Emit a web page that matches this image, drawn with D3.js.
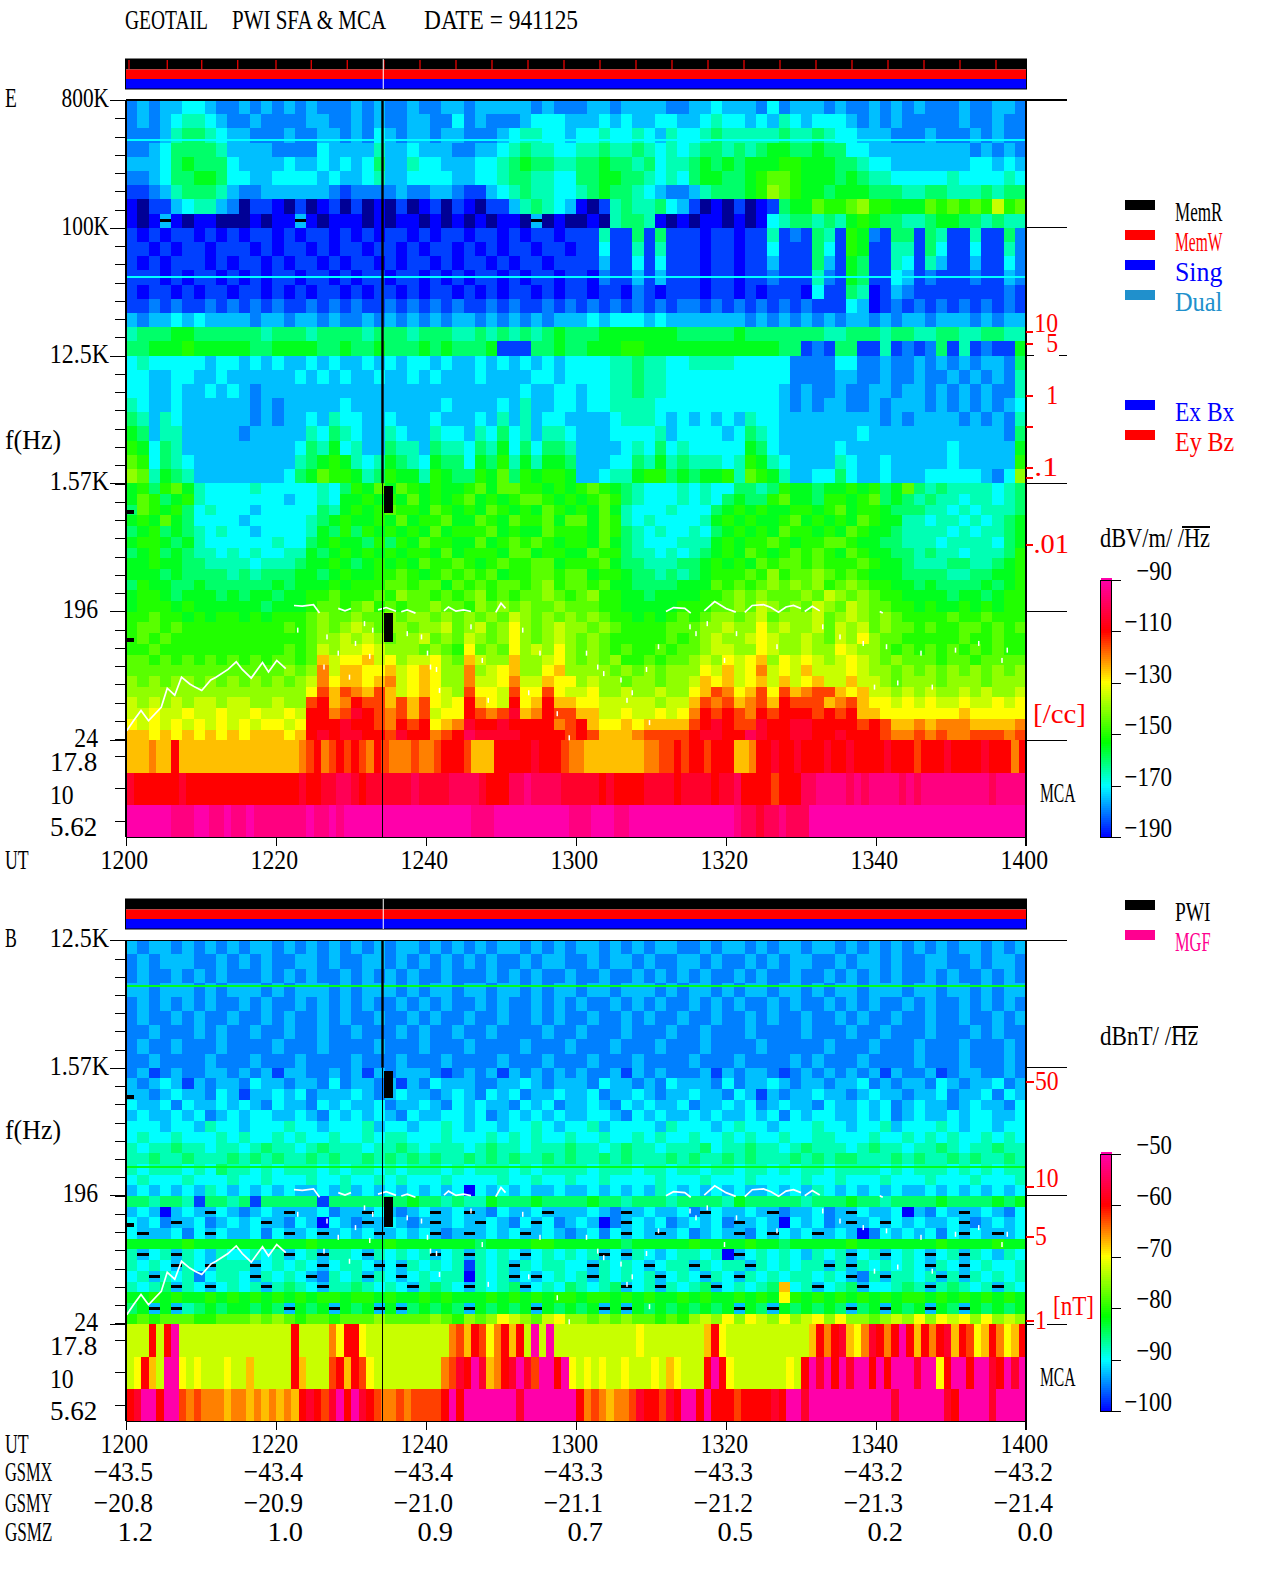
<!DOCTYPE html>
<html>
<head>
<meta charset="utf-8">
<script src="https://cdn.jsdelivr.net/npm/d3@7"></script>
<style>
html, body { margin: 0; padding: 0; background: #fff; }
svg { display: block; }
text { font-family: "Liberation Serif", serif; font-size: 28px; white-space: pre; }
</style>
</head>
<body>
<div id="chart"></div>
<script>
// levels: one character per cell, 0..k is 5 dB (E) or 2.5 dB (B) a step
// "-" is a blue and black speckled cell, "." is a black dash on blue
const levelChars = "0123456789abcdefghijk";

// E field, 800K down to 1.57K, 80 columns of 1.5 min
const eHighRows = [
"2323344322 3232323222 3232232233 2333332322 2332333322 3343332423 3323223232 3222322332",
"2323455432 2322223322 3232233224 2322234443 3343433443 3454434354 3444323232 2222322322",
"2223566543 3222322332 3243233233 2223455443 4454454354 4565555565 5654433322 2322232322",
"2234666653 3332222433 3353343332 2334565544 5565565454 5665656776 6766443333 3333323232",
"3334676664 3333433434 3463354433 3445676655 6676656455 6767677788 7776654433 3333344343",
"2234667764 4334444343 3453344443 3445665544 6677665454 6776678998 7776765544 4445444454",
"1123566653 2233333321 2222322332 1134565544 5676654322 3566678a98 7767776665 5665556566",
"0-11345532 -110-1-01- 1-0-1-01-1 0-11356543 0-15655643 1-0-1-0167 79889a8877 7989898b89",
"0-0.0-00-- -0-00.0-00 0-0-00-0-0 -0-00-.-0- -0-56650-0 -00-0-0456 6565787665 5677665655",
"1010110101 0110101101 0101101011 0110101101 1151161611 1011011512 1651872166 1651151162",
"1101011011 1010110101 1011010110 1010110110 1141151511 1011011411 1641871155 1641141152",
"1010111010 1101011010 1101011010 1101011011 1131141411 1011011311 1631761154 1531131142",
"1110101101 0101101101 0110110101 0110101101 1021131311 1011011211 1521761143 1211121132",
"1011010110 1101010110 1011010110 1010110101 1011021011 1011010111 0411650132 1111111121",
"1121211212 1212112121 2112121212 1121211212 1212121212 2121212121 2111430121 2121212121",
"3233434333 3233233232 2323232323 3232323233 3434443433 3333323232 3232332323 3233323233",
"5666776666 6656665666 6566656665 5656565676 6677777776 6666766666 6655666566 5566556655",
"6677787777 7667777667 6676667676 6671116676 6777887777 7777777766 1216611512 1261512117",
"4544444344 3434334343 3434344343 3434343434 4445565544 5555444442 2224422322 3232323326",
"4433443343 3333343434 3343343433 3433334434 4445565544 4444444442 2223322322 3223232325",
"4433433434 3233333333 3333333333 3333343344 3445565544 4444444432 3223223323 3232323225",
"5433433333 3232333334 3333333343 3334353344 3445555444 4444444432 3233223233 3232323234",
"6535433333 3232334354 4334333433 3435353443 3334555434 3434354433 3333333232 3333232325",
"7635533333 2333335465 4335433544 3546453554 3334444534 4443465433 3333343333 3333333326",
"8746533333 3333346574 5336553655 4657464665 3333454645 4444476433 3334333333 3334333337",
"9846543333 3333356787 5457654766 4768575776 3334465756 5554587543 3335433433 3334333338",
"a957653333 3333467988 7568775876 6879687887 3345578867 6778598753 3446433433 344444324a"
];

// E field, 1.57K down to 24
const eLowRows = [
"7868975444 4544444546 8797987877 8979988787 8987654445 4544665687 7677878679 6565555456",
"7986785444 4444344547 7878797878 9787899878 7898654445 4546766897 7688789676 5655455456",
"6987864544 4344444657 8789887987 8798787987 8797544454 4467878778 8789788766 6554545556",
"7879764444 3444445678 7787978897 7987988979 9798545444 4578787789 7878798775 5455454567",
"6786765454 4344445768 6878787978 8897877988 8798654544 5467878798 8787987765 5554545567",
"7887675444 4445446787 7686879887 7978989878 8797654445 5578788987 8899877665 5545555467",
"6786765545 4544557678 7878788797 8887997887 7988655454 5678798789 8987987766 5655455568",
"7787766555 5455567787 6787879889 8789889978 8897665556 6787879899 8988898776 5556655678",
"7776766665 6566677678 7788987898 9897889989 9788766565 6788898a89 9a98987776 6665566778",
"6877667666 6667677787 8889989979 8989989a89 9897766667 7798989a9a 9a89a98877 6766667678",
"7887677767 6776778898 8898a99898 9a89899a98 9a88776777 7889a9a999 a9ba9a9887 7776776788",
"7888787777 7767778998 9a89899a99 8a9a9a99a9 9988777778 8899a9ba9a 9ba9ba9988 7877878788",
"8898878788 7878889a99 a99a9aa9a9 a9a9ba9a9a 9a98878789 89aa9ab9aa ab9aba9a98 8889889888",
"8998988888 8888989a9a ba9aa9aab9 ab9aca9aba a9a9888899 9aabaacaba ab9bab9a99 8988998989",
"8989888888 8888889aab aba9aab9a9 ba9aca9aba 9a98888898 9abaabcbaa ba9baca998 8888988988",
"8898888888 8888989bab bcbaaa9a98 c9a9cabaca 9a98988989 9abbaacbaa baacbaa989 8989898988",
"9989898989 8989989dbc cdbcabbca9 dbaadaabca 9a9a889899 abacbcdacb cbabcba9a9 9989989999",
"9999999999 9999a9aebd dccdbcdcaa eabcdaacda aaa9a9a9aa acbdbcebcb dbbbcbaa9a 9a9a9a9a9a",
"a9a9aa9a9a 9a9a9abecd dcdebcdcaa ebbcebbdcc abaa9aa9aa bdcdbcdbdb cdbbdbba9a aa9aaa9aaa",
"aaaaaaaaaa aaaaaacfdf edfdbcdcba fccbfccfcb bcaabaabaa cdfecdfcfd effdcdbbab abaababaab",
"babababbab baabaafgde gffdfdfcbc gdcbgcdgdd ccbbbbbabb dfefdefdgf ffdefdccbc bcbbcbbcbc",
"bbcbbcbbcb bcbbcbggef hgfefdfbcc gfefhdegff ddbbcbbcbc egfgfegfgg gfgfgddccc ccccdccccc",
"cbcbcbcbcb cbccbcgggh ggfegfgcde hgghggggef gdccdcdddd fghgffhggh hggggfgfdd edeeedddde",
"ddcdcdcdcd cdddcdghgh hggfhggefg ihhhhggggf gfdddeffff ghhggihggh hgghgggfee fefeefffef"
];

// E field MCA channels, 120 columns of 1 min
const eMcaRows = [
"dddeddgddd dddddddddd dddefgefgf gfegfeeefe efgggfdddg gggghgggfe edddddddde effgfggfgg gddegghggh ggghgghggg ghgggfgggh gggghgggeg",
"hgggggghgg gggggggggg ggghgghhii hghhhhhhih hhhiiiihgg giijiiiihh hhhghggggh hhhghhhhgh higgggfggg iijjjjijij jjjijijjjj jjjjjijjjj",
"kkkkkkjjjk kjjkjjkjjj jjjjkjjkjk kkkkkkkkkk kkkkkkjjjk kkkkkkkkkj jjkkkjjkkk kkkkkkkkkk kjiihiijii ikkkkkkkkk kkkkkkkkkk kkkkkkkkkk"
];

// B field, 12.5K down to 1.57K
const bHighRows = [
"3233232323 2332323232 3232332323 2323323232 3323232332 2323323233 2332323232 3232332323",
"2323332232 3232233232 2332323232 3232232332 2323323223 3232232323 3223233232 2332232332",
"2322323232 2232323223 2323232232 2232323223 2232232323 2322323223 2232323232 2323223232",
"3323332323 3323233323 2333232332 3323323233 2332333232 3323233233 2323323332 3323323233",
"2323232322 3232232323 2322323232 2323223232 3223232322 3232322323 2232323223 2322323232",
"2322323223 2232322323 2232232322 3223223232 2322323223 2232232322 3223232232 2322322323",
"2232223232 2322322322 3222323223 2232222322 3222322232 2322232222 3222322322 2322232322",
"2322322232 2223222322 2232223222 3222232223 2223222322 2322223222 2232223222 3222322232",
"2232222322 2322232222 3222322232 2223222322 2322232222 3222322223 2322232222 3222322232"
];

// B field, 1.57K down to 24
const bLowRows = [
"2312322332 3231332232 3132333212 3231323232 3223132322 2313233212 3232323132 2312332232",
"3234313233 2433233242 3323132433 3223343233 3243323243 3324233432 3323342323 3243233423",
"3323433243 1334342333 4323433234 3243423343 3423343233 4332431323 3433234332 3342334243",
"4334243343 4324332434 3342334324 3433243423 3432434334 2334342343 3243343423 4332343324",
"3433434234 3443343243 4343243344 3423434343 3443243433 4343343424 3443343423 4334344334",
"4443443544 3444544344 4534434454 3443445434 4534444354 4434544344 4544344534 4454344344",
"4544544454 5445454454 4545544454 4454545445 4454454544 5445454454 4554445445 4545445454",
"5455655455 4565545655 5455654555 4565545556 5545655455 5645565545 6555456554 5565455655",
"5565565556 5656556565 5656565655 6565655656 5565655565 6556565556 5656655565 6556565565",
"5455545465 5454555454 5545455545 4555454555 5455545545 5455455454 5545555454 5554545455",
"4544454445 4454445445 4454544454 4445445445 4454444544 4544454444 5445444544 4544454445",
"3434343543 4343433435 3434343434 0434343343 3434343543 4343433434 3543434343 3434343434",
"6656651665 6166666166 6666676656 5576667666 6766566656 6665766666 5666766566 6676666767",
"3430343.43 2343.33423 3.43234.34 .324334.33 3432.34334 2.43343.23 3423.43340 3243.34324",
"4342.34234 34.3243043 2.34323.34 3.4324.423 4302.43423 4342.34304 3423.34.43 4334.23434",
"4.33424.43 3424.34.34 34.3434.23 .3434.3432 3424.43.34 2343.24.43 4.34302434 3424.43.34",
"7777787777 7777778777 7778777777 7677778877 7777677777 8777787767 7777877777 7787777877",
"5.45.54354 4545.45.55 4.54545.45 .5454.4545 45.4.54345 5450.45454 3545.45.45 4.45.54354",
"5454.54.55 5.45454.45 54.4.54545 1545.54554 4.5454.455 .5455.5454 55.5.54545 4.54.45445",
"45.5452455 4.5454.254 5.54.45455 0545.4.454 5.54545.45 4.54.54545 5454.25.55 45.5.54545",
"5456.54.45 45.5654.55 65454.5654 .5456.4546 5456.45.54 56.45456d4 5.456.4456 5.56545.54",
"7787877878 7878787887 8878778787 7787878788 7887878778 78778787c8 7878787878 8787878787",
"67.7.56767 7676.767.7 67.7.67676 .76767.767 67.7.76767 6767.76.76 7676.67.76 7.76.76767",
"8989998899 9a9a989989 99a9999a98 a9acba9bca a9a9a99898 abacacbaca bcacaa9aba cacbcacaba"
];

// B field MCA channels
const bMcaRows = [
"bbbgbgkbbb bbbbbbbbbb bbgbbbbecg gcbbbbbbbb bbbefdgfce gdgbkbkbbb bbbbbbbbcb bbbbbbbdgc bbbbbbbbbb bdgeghdceh gegkgdgegh dgfcdgecdg",
"bcgdbkkcbc bbbcbbdbbb bbgdbbbfgd gfcbbbbbbb bbefhgkhde ghkhfkkgkc bcbcbbcbbb cbdcbbbgkg cbbbbbbbcb gkhkgkhkkg kgkkkhkkcg kkgkkhgkhk",
"ghkkgkkfef eeedeedede dedghgfhkg khgfeefeff ffgkgkkkkk kkhkkkkkkk gefedeefhg gfhgkkgkgg gfgggghgkk hkkkkkkkkk kkhkkkkkkh gkkkkhkkkk"
];

// thin steady lines, Hz and level
const eLineHz = [44600, 419000];
const eLineLevel = ["4", "4"];
const bLineHz = [5900, 309];
const bLineLevel = ["7", "7"];

// white trace, minutes after 1200 and Hz, null breaks the line
const traceMin = [0.1,1,2,3,4.7,5.5,6.5,7.4,8.5,9.2,10.1,11.3,12,13.6,14.7,15.5,16.7,18.2,19,20.1,21.3,null,
  22.4,23.5,25,25.8,null,28.3,29.2,30,null,33.6,34.7,36,null,36.7,37.5,38.6,null,42.4,43,44,45,46,null,49.3,50,50.6,null,
  72,73,74.5,75.3,null,77.1,78.5,80,81.3,null,82.5,83.5,85,86,87,88,89,90,null,90.5,91.5,92.5,null,100.5,100.9];
const traceHz = [28,33,39,33,41,56,50,67,60,57,54,64,67,76,86,76,66,85,73,88,77,null,
  215,213,218,190,null,205,197,205,null,200,208,196,null,194,200,190,null,197,210,196,200,195,null,192,223,205,null,
  195,208,205,190,null,197,229,205,193,null,192,215,218,208,193,210,215,205,null,195,212,197,null,195,190];
// loose trace dots
const dotMin = [22.8,26.7,31.7,30.5,28.2,26.3,29.7,32.4,32.8,37.4,39.3,40.1,40.5,41.7,45.9,47.4,52.8,55.1,53.6,57.4,61.3,63.6,65.9,67.4,69.3,70.9,75.1,77.4,81.3,86.7,92.8,95.1,98.2,101.3,105.9,110.5,113.6,117.4,107.4,99.7,102.8,79.7,75.9,66.7,48.2,41.3,62.8,59,69.7,116.7];
const dotHz = [144,129,160,116,99,79,67,94,144,136,129,99,79,54,152,88,144,99,52,37,99,71,64,52,76,110,152,160,136,110,152,129,116,110,99,104,116,104,57,57,61,88,136,46,46,76,79,25,32,88];

// black data gaps: start min, end min, top Hz, bottom Hz
const gapStart = [34.4, 34.4, 0, 0];
const gapEnd = [35.6, 35.6, 1.1, 1.1];
const gapTopHz = [1490, 190, 1010, 126];
const gapBotHz = [962, 118, 945, 118];

const memTicks = [0.4,5.5,10.1,14.9,20,24.7,29.5,34.4,39.2,44,48.8,53.6,58.4,63.2,68,72.8,77.6,82.4,87.2,92,96.8,101.6,106.4,111.2,116];
const utLabels = ["1200","1220","1240","1300","1320","1340","1400"];
const utMinutes = [0,20,40,60,80,100,120];
const gsmx = ["−43.5","−43.4","−43.4","−43.3","−43.3","−43.2","−43.2"];
const gsmy = ["−20.8","−20.9","−21.0","−21.1","−21.2","−21.3","−21.4"];
const gsmz = ["1.2","1.0","0.9","0.7","0.5","0.2","0.0"];
const mcaLabels = ["17.8","10","5.62"];
const eFreqHz = [800000,100000,12500,1570,196,24];
const eFreqText = ["800K","100K","12.5K","1.57K","196","24"];
const bFreqHz = [12500,1570,196,24];
const bFreqText = ["12.5K","1.57K","196","24"];
const eDbTicks = [-90,-110,-130,-150,-170,-190];
const bDbTicks = [-50,-60,-70,-80,-90,-100];
const densityVal = [10,5,1,0.3,0.1,0.07,0.01];
const densityText = ["10","5","1","",".1","",".01"];
const nTVal = [50,10,5,1];
const nTText = ["50","10","5","1"];

const adv = 11.85;
const svg = d3.select("#chart").append("svg").attr("width", 1280).attr("height", 1593);
const x = d3.scaleLinear().domain([0, 120]).range([126, 1026]);

function label(px, py, str, fill, anchor, width) {
  const w = width || str.length * adv;
  const left = anchor === "end" ? px - w : anchor === "middle" ? px - w / 2 : px;
  return svg.append("text").attr("x", left).attr("y", py)
    .attr("fill", fill || "#000")
    .attr("textLength", w).attr("lengthAdjust", "spacingAndGlyphs")
    .text(str);
}

function hLine(x1, x2, y1, col) {
  svg.append("line").attr("x1", x1).attr("x2", x2).attr("y1", y1).attr("y2", y1)
    .attr("stroke", col || "#000").attr("stroke-width", 1.3).attr("shape-rendering", "crispEdges");
}

function drawCells(g, rows, top, bottom, color) {
  const parsed = rows.map(r => r.replace(/ /g, ""));
  const yb = d3.scaleBand().domain(d3.range(parsed.length)).range([top, bottom]);
  const xb = d3.scaleBand().domain(d3.range(parsed[0].length)).range(x.range());
  parsed.forEach((row, i) => {
    const cells = row.split("");
    g.selectAll(null).data(cells).enter().append("rect")
      .attr("x", (d, j) => xb(j)).attr("y", yb(i))
      .attr("width", xb.bandwidth() + 0.5).attr("height", yb.bandwidth() + 0.5)
      .attr("fill", d => color(d));
    // black dashes sit in the middle of their cell
    g.selectAll(null).data(cells.map((c, j) => [c, j]).filter(d => d[0] === ".")).enter().append("rect")
      .attr("x", d => xb(d[1])).attr("y", yb(i) + yb.bandwidth() / 2 - 1.5)
      .attr("width", xb.bandwidth()).attr("height", 3)
      .attr("fill", "#000");
  });
}

function header(top, ticks) {
  svg.append("rect").attr("x", 125.5).attr("y", top).attr("width", 901).attr("height", 10.5).attr("fill", "#000");
  svg.append("rect").attr("x", 125.5).attr("y", top + 10.5).attr("width", 901).attr("height", 9.5).attr("fill", "#f00");
  svg.append("rect").attr("x", 125.5).attr("y", top + 20).attr("width", 901).attr("height", 10).attr("fill", "#00f");
  svg.append("rect").attr("x", 125.5).attr("y", top).attr("width", 901).attr("height", 30)
    .attr("fill", "none").attr("stroke", "#000").attr("stroke-width", 1);
  svg.selectAll(null).data(ticks).enter().append("line")
    .attr("x1", d => x(d)).attr("x2", d => x(d)).attr("y1", top + 1).attr("y2", top + 10)
    .attr("stroke", "#f00").attr("stroke-width", 1.2);
  svg.append("line").attr("x1", x(34.3)).attr("x2", x(34.3)).attr("y1", top).attr("y2", top + 30)
    .attr("stroke", "#fff").attr("stroke-width", 1);
}

function panel(p) {
  const y = d3.scaleLog().domain([24, p.topHz]).range([p.y24, p.yTop]);
  const mcaBottom = p.y24 + 97;
  const mcaY = d3.scaleBand().domain(mcaLabels).range([p.y24, mcaBottom]);
  const dbColor = d3.scaleLinear().domain(p.colorDb).range(["#0000ff", "#00ffff", "#00ff00", "#ffff00", "#ff0000", "#ff00aa"]).clamp(true);
  const color = c => {
    if (c === "-") return "#000096";
    if (c === ".") return dbColor(p.db0 + 3 * p.dbStep);
    return dbColor(p.db0 + levelChars.indexOf(c) * p.dbStep);
  };
  const g = svg.append("g").attr("shape-rendering", "crispEdges");
  drawCells(g, p.high, y(p.topHz), y(1570), color);
  drawCells(g, p.low, y(1570), y(24), color);
  drawCells(g, p.mca, p.y24, mcaBottom, color);

  // steady lines
  p.lineHz.forEach((hz, i) => {
    g.append("rect").attr("x", x(0)).attr("width", x(120) - x(0)).attr("y", y(hz) - 1).attr("height", 2)
      .attr("fill", color(p.lineLevel[i]));
  });

  // data gaps
  g.selectAll(null).data(gapStart).enter().append("rect")
    .attr("x", d => x(d)).attr("width", (d, i) => x(gapEnd[i]) - x(d))
    .attr("y", (d, i) => y(gapTopHz[i])).attr("height", (d, i) => y(gapBotHz[i]) - y(gapTopHz[i]))
    .attr("fill", "#000");

  // trace
  const pts = traceMin.map((m, i) => [m, traceHz[i]]);
  svg.append("path").datum(pts)
    .attr("d", d3.line().defined(d => d[0] !== null).x(d => x(d[0])).y(d => y(d[1])))
    .attr("fill", "none").attr("stroke", "#fff").attr("stroke-width", 1.7);
  svg.selectAll(null).data(dotMin).enter().append("rect")
    .attr("x", d => x(d)).attr("y", (d, i) => y(dotHz[i]) - 2.5).attr("width", 1.5).attr("height", 5).attr("fill", "#fff");

  // gap line through the panel
  svg.append("line").attr("x1", x(34.2)).attr("x2", x(34.2)).attr("y1", y(p.topHz)).attr("y2", y(1570))
    .attr("stroke", "#000").attr("stroke-width", 2.4);
  svg.append("line").attr("x1", x(34.2)).attr("x2", x(34.2)).attr("y1", y(1570)).attr("y2", mcaBottom)
    .attr("stroke", "#000").attr("stroke-width", 1);

  // frame
  const frame = svg.append("g").attr("shape-rendering", "crispEdges");
  frame.append("line").attr("x1", x(0)).attr("x2", x(0)).attr("y1", y(p.topHz)).attr("y2", mcaBottom).attr("stroke", "#000").attr("stroke-width", 1.2);
  frame.append("line").attr("x1", x(120)).attr("x2", x(120)).attr("y1", y(p.topHz)).attr("y2", mcaBottom + 9).attr("stroke", "#000").attr("stroke-width", 1.2);
  hLine(x(0), x(120), mcaBottom);
  hLine(x(0), x(120), y(p.topHz));

  // left axis, major and minor ticks
  const nMinor = Math.round(Math.log(p.topHz / 24) / Math.log(8) * 7);
  const minors = d3.range(0, nMinor + 1).map(k => p.topHz / Math.pow(8, k / 7));
  const axMinor = d3.axisLeft(y).tickValues(minors).tickSize(11).tickFormat("");
  const axMajor = d3.axisLeft(y).tickValues(p.freqHz).tickSize(16).tickFormat("");
  [axMinor, axMajor].forEach(ax => {
    const a = svg.append("g").attr("transform", "translate(" + x(0) + ",0)").attr("shape-rendering", "crispEdges").call(ax);
    a.select(".domain").remove();
  });
  const axMca = svg.append("g").attr("transform", "translate(" + x(0) + ",0)").attr("shape-rendering", "crispEdges")
    .call(d3.axisLeft(mcaY).tickSize(11).tickFormat(""));
  axMca.select(".domain").remove();

  // bottom axis ticks
  const axB = svg.append("g").attr("transform", "translate(0," + mcaBottom + ")").attr("shape-rendering", "crispEdges")
    .call(d3.axisBottom(x).tickValues(utMinutes).tickSize(9).tickFormat(""));
  axB.select(".domain").remove();

  // long ticks on the right
  p.freqHz.forEach(hz => hLine(x(120), 1067, y(hz)));
  p.rightGaps.forEach(r => svg.append("rect").attr("x", r[0]).attr("width", r[1] - r[0]).attr("y", y(r[2]) - 2).attr("height", 4).attr("fill", "#fff"));

  // labels
  p.freqHz.forEach((hz, i) => {
    const t = p.freqText[i];
    label(t.endsWith("K") ? 109 : 98, y(hz) + 7, t, "#000", "end");
  });
  mcaLabels.forEach((t, i) => label(50, mcaY(t) + mcaY.bandwidth() / 2 + 15, t));
  label(5, y(p.topHz) + 7, p.name);
  label(5, p.fHzY, "f(Hz)", "#000", "start", 56);
  label(1040, mcaBottom - 35, "MCA");
}

header(59, memTicks);
header(899, []);

panel({
  name: "E", topHz: 800000, yTop: 100, y24: 740.3, high: eHighRows, low: eLowRows, mca: eMcaRows,
  db0: -190, dbStep: 5, colorDb: [-190, -170, -153, -130, -110, -90],
  lineHz: eLineHz, lineLevel: eLineLevel, freqHz: eFreqHz, freqText: eFreqText,
  fHzY: 449, rightGaps: [[1034, 1059, 12500]]
});
panel({
  name: "B", topHz: 12500, yTop: 940.3, y24: 1324.3, high: bHighRows, low: bLowRows, mca: bMcaRows,
  db0: -100, dbStep: 2.5, colorDb: [-100, -90, -81.5, -70, -60, -50],
  lineHz: bLineHz, lineLevel: bLineLevel, freqHz: bFreqHz, freqText: bFreqText,
  fHzY: 1139, rightGaps: [[1034, 1047, 24]]
});

// colour bars
function colorBar(top, bottom, dbTicks, domain, xText) {
  const yb = d3.scaleLinear().domain([dbTicks[dbTicks.length - 1], dbTicks[0]]).range([bottom, top]);
  const c = d3.scaleLinear().domain(domain).range(["#0000ff", "#00ffff", "#00ff00", "#ffff00", "#ff0000", "#ff00aa"]);
  const steps = d3.range(0, 129).map(i => yb.domain()[0] + (yb.domain()[1] - yb.domain()[0]) * i / 128);
  svg.append("g").attr("shape-rendering", "crispEdges").selectAll("rect").data(steps).enter().append("rect")
    .attr("x", 1100.5).attr("width", 11).attr("y", d => yb(d) - 2).attr("height", 3).attr("fill", d => c(d));
  svg.append("rect").attr("x", 1100.5).attr("y", top).attr("width", 11).attr("height", bottom - top)
    .attr("fill", "none").attr("stroke", "#000").attr("stroke-width", 1).attr("shape-rendering", "crispEdges");
  const a = svg.append("g").attr("transform", "translate(1111.5,0)").attr("shape-rendering", "crispEdges")
    .call(d3.axisRight(yb).tickValues(dbTicks).tickSize(9).tickFormat(""));
  a.select(".domain").remove();
  dbTicks.forEach(v => label(xText, yb(v), "−" + Math.abs(v), "#000", "end"));
}
colorBar(580, 837, eDbTicks, [-190, -170, -153, -130, -110, -90], 1172);
colorBar(1154, 1411, bDbTicks, [-100, -90, -81.5, -70, -60, -50], 1172);

// right hand red scales
const densityY = d3.scaleLog().domain(densityVal).range([332, 344, 396, 427, 468, 478, 545]);
densityVal.forEach((v, i) => {
  hLine(1026, 1033, densityY(v), "#f00");
  const t = densityText[i];
  if (t) label(1058 + (t === ".01" ? 11 : 0), densityY(v) + (t === "10" ? 0 : 8), t, "#f00", "end");
});
label(1033, 723, "[/cc]", "#f00", "start", 53);

const nTY = d3.scaleLog().domain(nTVal).range([1082, 1187, 1237, 1321]);
nTVal.forEach((v, i) => {
  hLine(1026, 1034, nTY(v), "#f00");
  label(1035, nTY(v) + (v === 10 ? 0 : 8), nTText[i], "#f00");
});
label(1053, 1315, "[nT]", "#f00", "start", 41);

// legends
const legendTop = ["MemR", "MemW", "Sing", "Dual"];
const legendTopCol = ["#000", "#f00", "#00f", "#2090cc"];
const legendTopY = [200, 230, 260, 290];
const legendMid = ["Ex Bx", "Ey Bz"];
const legendMidCol = ["#00f", "#f00"];
const legendMidY = [400, 430];
const legendB = ["PWI", "MGF"];
const legendBCol = ["#000", "#ff0090"];
const legendBY = [900, 930];
function legend(names, cols, ys) {
  names.forEach((n, i) => {
    svg.append("rect").attr("x", 1125).attr("y", ys[i]).attr("width", 30).attr("height", 10).attr("fill", cols[i]);
    label(1175, ys[i] + 20.5, n, cols[i]);
  });
}
legend(legendTop, legendTopCol, legendTopY);
legend(legendMid, legendMidCol, legendMidY);
legend(legendB, legendBCol, legendBY);

// units
label(1100, 547, "dBV/m/ /Hz", "#000", "start", 110);
hLine(1182, 1210, 527);
label(1100, 1045, "dBnT/ /Hz", "#000", "start", 98);
hLine(1173, 1198, 1027);

// title
label(125, 29, "GEOTAIL");
label(232, 29, "PWI SFA & MCA");
label(424, 29, "DATE = 941125");

// time rows
label(5, 869, "UT");
label(5, 1452.7, "UT");
label(5, 1481, "GSMX");
label(5, 1511.7, "GSMY");
label(5, 1541, "GSMZ");
utMinutes.forEach((m, i) => {
  label(x(m) + 22, 869, utLabels[i], "#000", "end");
  label(x(m) + 22, 1452.7, utLabels[i], "#000", "end");
  label(x(m) + 27, 1481, gsmx[i], "#000", "end");
  label(x(m) + 27, 1511.7, gsmy[i], "#000", "end");
  label(x(m) + 27, 1541, gsmz[i], "#000", "end");
});
</script>
</body>
</html>
